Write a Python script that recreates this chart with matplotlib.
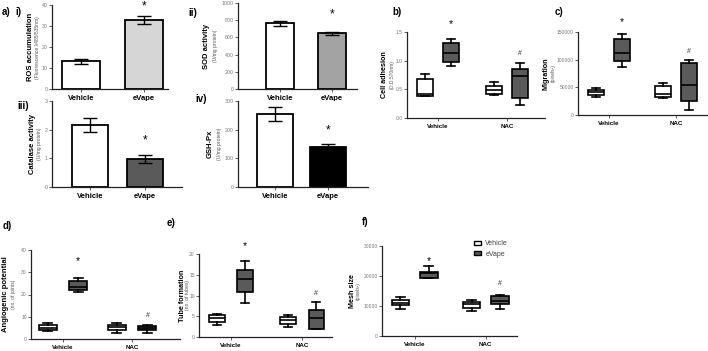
import matplotlib
matplotlib.use("Agg")
import matplotlib.pyplot as plt
from matplotlib.patches import Patch

plt.rcParams['font.family'] = ['Liberation Sans', 'DejaVu Sans']

W, H = 708, 351

# --- bar panels (a) : [Vehicle, eVape] ---
groups = ["Vehicle", "eVape"]
ros_mean = [13.3, 33.0]
ros_err = [1.3, 2.0]
sod_mean = [762, 646]
sod_err = [26, 19]
cat_mean = [2.18, 0.98]
cat_err = [0.24, 0.13]
gsh_mean = [256, 141]
gsh_err = [24, 9]

# --- box panels: whislo, q1, median, q3, whishi
# order: Vehicle/Vehicle, Vehicle/eVape, NAC/Vehicle, NAC/eVape
treat = ["Vehicle", "NAC"]
adhesion = [[0.38, 0.39, 0.41, 0.68, 0.76], [0.90, 0.97, 1.13, 1.31, 1.38],
            [0.40, 0.42, 0.49, 0.55, 0.63], [0.23, 0.35, 0.73, 0.86, 0.96]]
migration = [[33000, 37000, 41000, 45000, 48000], [86000, 98000, 112000, 137000, 147000],
             [31000, 33000, 38000, 52000, 57000], [9000, 26000, 55000, 94000, 99000]]
angio = [[3.7, 4.1, 5.1, 6.3, 7.0], [21.3, 22.2, 23.3, 26.0, 27.3],
         [2.8, 4.0, 5.5, 6.3, 7.0], [2.9, 4.0, 5.0, 6.0, 6.5]]
tube = [[3.0, 3.7, 4.5, 5.2, 5.5], [8.2, 10.8, 14.0, 16.2, 18.2],
        [2.3, 3.1, 4.0, 4.9, 5.3], [1.9, 2.0, 4.6, 6.6, 8.4]]
mesh = [[9150, 10250, 11150, 12150, 13000], [19400, 19500, 20850, 21400, 23300],
        [8360, 9360, 10590, 11480, 12150], [8920, 10810, 11710, 13270, 13820]]

fig = plt.figure(figsize=(W / 100, H / 100), dpi=100)


def px_axes(l, r, t, b):
    return fig.add_axes([l / W, 1 - b / H, (r - l) / W, (b - t) / H])


def style(ax, yticks, tick_fs=3.8):
    for s in ["top", "right"]:
        ax.spines[s].set_visible(False)
    for s in ["left", "bottom"]:
        ax.spines[s].set_linewidth(0.9)
        ax.spines[s].set_color("#222222")
    ax.set_yticks(yticks)
    ax.set_ylim(yticks[0], yticks[-1])
    ax.tick_params(axis="y", labelsize=tick_fs, labelcolor="#777777", length=2,
                   width=0.6, pad=1, color="#444444")
    ax.tick_params(axis="x", length=2, width=0.6, pad=2, color="#444444")


def ylab(ax, xpx, main, sub, fs=5.5, subfs=3.6, ycen=None, gap=8):
    bb = ax.get_position()
    yc = bb.y0 + bb.height / 2 if ycen is None else 1 - ycen / H
    fig.text(xpx / W, yc, main, rotation=90, ha="center", va="center",
             fontsize=fs, fontweight="bold")
    fig.text((xpx + gap) / W, yc, sub, rotation=90, ha="center", va="center",
             fontsize=subfs, color="#555555")


def bar_panel(ax, mean, err, color, xlim, width, yticks, star_y):
    ax.bar([0, 1], mean, width=width, color=["white", color], edgecolor="black",
           linewidth=1.3, zorder=2)
    ax.errorbar([0, 1], mean, yerr=err, fmt="none", ecolor="black",
                elinewidth=1.0, capsize=5, capthick=1.0, zorder=3)
    style(ax, yticks)
    ax.set_xlim(*xlim)
    ax.set_xticks([0, 1])
    ax.set_xticklabels(groups, fontsize=5.5, fontweight="bold")
    ax.text(1, star_y, "*", ha="center", va="center", fontsize=8.5, clip_on=False)


ax = px_axes(52, 168, 5.3, 89.3)
bar_panel(ax, ros_mean, ros_err, "#d6d6d6", (-0.46, 1.38), 0.6, [0, 10, 20, 30, 40], 39.5)
ylab(ax, 31, "ROS accumulation", "(Fluorescence \u03bb485/535nm)", gap=7)

ax = px_axes(238, 357, 2.7, 89.3)
bar_panel(ax, sod_mean, sod_err, "#a3a3a3", (-0.81, 1.48), 0.55, [0, 200, 400, 600, 800, 1000], 860)
ylab(ax, 207, "SOD activity", "(U/mg protein)")

ax = px_axes(52, 182, 101.5, 187)
bar_panel(ax, cat_mean, cat_err, "#5a5a5a", (-0.69, 1.67), 0.64, [0, 1, 2, 3], 1.62)
ylab(ax, 33, "Catalase activity", "(U/mg protein)", gap=7)

ax = px_axes(238, 368, 101.5, 187)
bar_panel(ax, gsh_mean, gsh_err, "black", (-0.7, 1.75), 0.68, [0, 100, 200, 300], 200)
ylab(ax, 210, "GSH-Px", "(U/mg protein)", gap=9)


def box_panel(ax, data, xlim, off, width, yticks, star_y, hash_y, xfs=4.5, tick_fs=3.6):
    stats = []
    for d in data:
        stats.append(dict(whislo=d[0], q1=d[1], med=d[2], q3=d[3], whishi=d[4]))
    pos = [1 - off, 1 + off, 2 - off, 2 + off]
    bp = ax.bxp(stats, positions=pos, widths=width, patch_artist=True,
                showfliers=False,
                boxprops=dict(edgecolor="black", linewidth=1.2),
                medianprops=dict(color="black", linewidth=1.2),
                whiskerprops=dict(color="black", linewidth=1.2),
                capprops=dict(color="black", linewidth=1.2),
                capwidths=width * 0.5)
    for i, b in enumerate(bp["boxes"]):
        b.set_facecolor("white" if i % 2 == 0 else "#5a5a5a")
    style(ax, yticks, tick_fs)
    ax.set_xlim(*xlim)
    ax.set_xticks([1, 2])
    ax.set_xticklabels(treat, fontsize=xfs, fontweight="bold")
    ax.text(1 + off, star_y, "*", ha="center", va="center", fontsize=7.5, clip_on=False)
    ax.text(2 + off, hash_y, "#", ha="center", va="center", fontsize=5,
            color="#333333", clip_on=False)


ax = px_axes(407, 545, 32, 118)
box_panel(ax, adhesion, (0.55, 2.55), 0.19, 0.23, [0, 0.5, 1.0, 1.5], 1.63, 1.13)
ax.set_yticklabels(["0.0", "0.5", "1.0", "1.5"])
ylab(ax, 384, "Cell adhesion", "(O.D.570nm)", fs=5.2)

ax = px_axes(578, 707, 32, 115)
box_panel(ax, migration, (0.54, 2.46), 0.19, 0.24, [0, 50000, 100000, 150000], 168000, 114000)
ylab(ax, 546, "Migration", "(pixels\u00b2)", fs=5.2, gap=7)

ax = px_axes(31, 180, 250, 339)
box_panel(ax, angio, (0.54, 2.69), 0.22, 0.26, [0, 10, 20, 30, 40], 35, 10.5)
ylab(ax, 6, "Angiogenic potential", "(no. of joints)", fs=5.5, gap=7)

ax = px_axes(199, 332, 254, 337)
box_panel(ax, tube, (0.55, 2.42), 0.2, 0.22, [0, 5, 10, 15, 20], 22, 10.4)
ylab(ax, 182, "Tube formation", "(no. of tubes)", fs=5.2, gap=6)

ax = px_axes(382, 517, 246, 336)
box_panel(ax, mesh, (0.54, 2.44), 0.2, 0.25, [0, 10000, 20000, 30000], 25100, 17500)
ylab(ax, 352, "Mesh size", "(pixels\u00b2)", fs=5.2, gap=6)
handles = [Patch(facecolor="white", edgecolor="black", linewidth=1.0, label="Vehicle"),
           Patch(facecolor="#5a5a5a", edgecolor="black", linewidth=1.0, label="eVape")]
fig.legend(handles=handles, loc="upper left", bbox_to_anchor=(468 / W, 1 - 234 / H),
           frameon=False, fontsize=5, handlelength=1.0, handleheight=0.6,
           labelspacing=0.5, handletextpad=0.6, labelcolor="#444444")

# panel labels
lab = dict(fontsize=7, fontweight="bold", va="center", ha="left")
fig.text(2 / W, 1 - 12 / H, "a)", **lab)
fig.text(15 / W, 1 - 12 / H, "i)", **lab)
fig.text(188 / W, 1 - 13 / H, "ii)", **lab)
fig.text(17 / W, 1 - 106 / H, "iii)", **lab)
fig.text(195 / W, 1 - 99 / H, "iv)", **lab)
fig.text(392 / W, 1 - 12 / H, "b)", **lab)
fig.text(555 / W, 1 - 12 / H, "c)", **lab)
fig.text(3 / W, 1 - 226 / H, "d)", **lab)
fig.text(167 / W, 1 - 223 / H, "e)", **lab)
fig.text(362 / W, 1 - 222 / H, "f)", **lab)

fig.savefig("out.png", dpi=100)
